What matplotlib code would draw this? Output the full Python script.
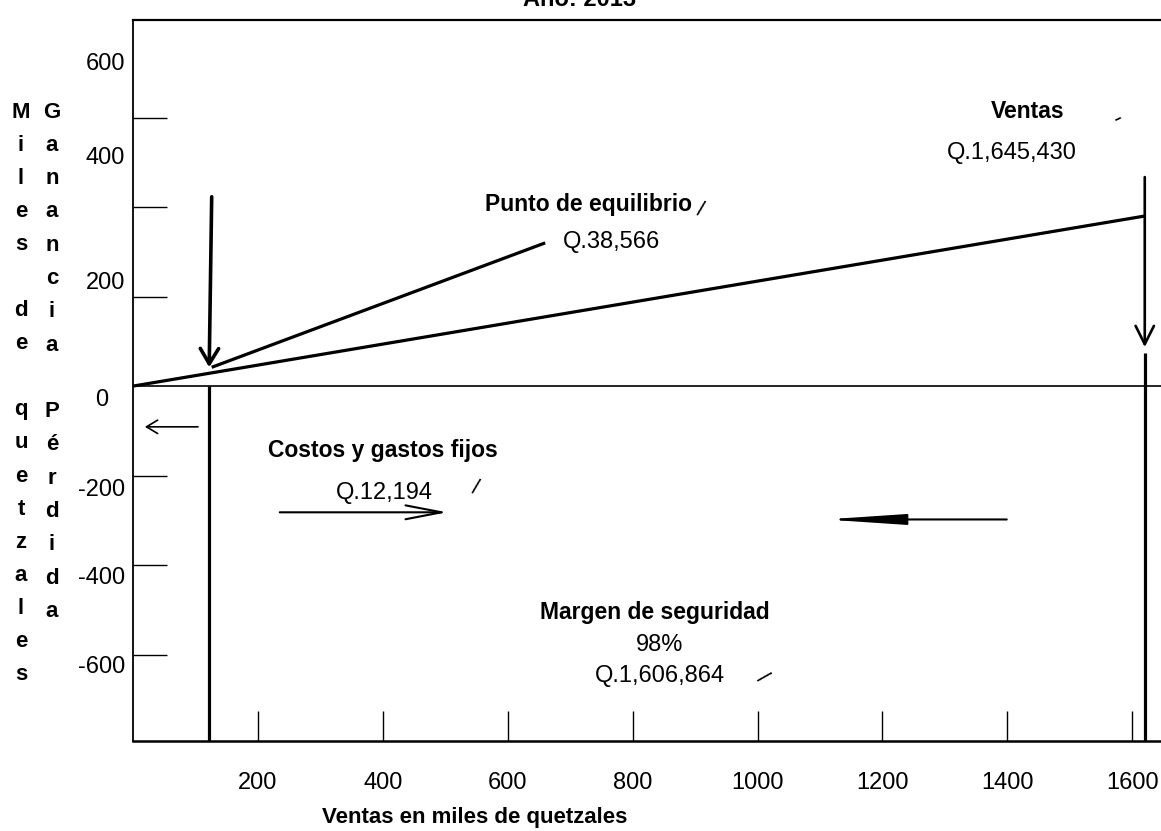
import matplotlib.pyplot as plt

plt.rcParams['font.family'] = ['Liberation Sans', 'DejaVu Sans']

# datos (miles de quetzales, dibujo a mano alzada)
x_ticks = [200, 400, 600, 800, 1000, 1200, 1400, 1600]
y_ticks = [-600, -400, -200, 200, 400, 600]
y_labels = ['600', '400', '200', '0', '-200', '-400', '-600']
y_label_pos = [720, 509, 230, -31, -233, -429, -628]

linea_ventas_x = [0, 1620]
linea_ventas_y = [0, 380]
linea_equilibrio_x = [126, 660]
linea_equilibrio_y = [42, 320]

punto_equilibrio = 122
flecha_pe_y = [423, 42]
ventas_pos = 1620
flecha_ventas_y = [467, 87]
ventas_inferior = 74

flecha_izq_x = [104, 19]
flecha_izq_y = -91
flecha_costos_x = [235, 503]
flecha_costos_y = -282
flecha_margen_x = [1399, 1108]
flecha_margen_y = -298

titulo = 'Año: 2013'
eje_x = 'Ventas en miles de quetzales'
eje_y1 = 'Miles de quetzales'
eje_y2 = 'Ganancia Pérdida'

W, H = 1161, 831
XMIN, XMAX = 0, 1646
YMIN, YMAX = -793, 818


def fx(px):
    return px / W


def fy(py):
    return 1 - py / H


fig = plt.figure(figsize=(W / 100, H / 100), dpi=100)
ax = fig.add_axes([fx(133), fy(741), (W - 133) / W, 721 / H])
ax.set_xlim(XMIN, XMAX)
ax.set_ylim(YMIN, YMAX)

lw_grueso = 2.3
ax.plot(linea_ventas_x, linea_ventas_y, color='black', lw=lw_grueso, solid_capstyle='butt')
ax.plot(linea_equilibrio_x, linea_equilibrio_y, color='black', lw=lw_grueso, solid_capstyle='butt')
ax.axhline(0, color='black', lw=1.2)

ax.vlines(punto_equilibrio, YMIN, 0, color='black', lw=lw_grueso)
ax.vlines(ventas_pos, YMIN, ventas_inferior, color='black', lw=lw_grueso)

ax.annotate('', xy=(punto_equilibrio, flecha_pe_y[1]), xytext=(punto_equilibrio + 4, flecha_pe_y[0]),
            arrowprops=dict(arrowstyle='->,head_length=0.5,head_width=0.3', lw=2.6,
                            mutation_scale=22, shrinkA=0, shrinkB=0, color='black'))
ax.annotate('', xy=(ventas_pos, flecha_ventas_y[1]), xytext=(ventas_pos, flecha_ventas_y[0]),
            arrowprops=dict(arrowstyle='->,head_length=0.6,head_width=0.3', lw=1.9,
                            mutation_scale=22, shrinkA=0, shrinkB=0, color='black'))
ax.annotate('', xy=(flecha_izq_x[1], flecha_izq_y), xytext=(flecha_izq_x[0], flecha_izq_y),
            arrowprops=dict(arrowstyle='->,head_length=0.5,head_width=0.3', lw=1.2,
                            mutation_scale=16, shrinkA=0, shrinkB=0, color='black'))
ax.annotate('', xy=(flecha_costos_x[1], flecha_costos_y), xytext=(flecha_costos_x[0], flecha_costos_y),
            arrowprops=dict(arrowstyle='->,head_length=1.3,head_width=0.25', lw=1.5,
                            mutation_scale=20, shrinkA=0, shrinkB=0, color='black'))
ax.annotate('', xy=(flecha_margen_x[1], flecha_margen_y), xytext=(flecha_margen_x[0], flecha_margen_y),
            arrowprops=dict(arrowstyle='-|>,head_length=2.4,head_width=0.16', lw=1.5,
                            mutation_scale=20, shrinkA=0, shrinkB=0, color='black'))

# ejes
ax.spines['right'].set_visible(False)
ax.spines['left'].set_linewidth(1.3)
ax.spines['top'].set_linewidth(1.6)
ax.spines['bottom'].set_linewidth(1.8)

ax.set_xticks(x_ticks)
ax.set_xticklabels([str(v) for v in x_ticks])
ax.tick_params(axis='x', direction='in', length=21.5, width=1.0, labelsize=17, pad=22)
ax.set_yticks(y_ticks)
ax.tick_params(axis='y', direction='in', length=24.5, width=1.0, labelleft=False)

for lab, h in zip(y_labels, y_label_pos):
    xpos = -0.024 if lab == '0' else -0.008
    ax.text(xpos, h, lab, transform=ax.get_yaxis_transform(), ha='right', va='center',
            fontsize=17, clip_on=False)

# letras verticales del eje y
for i, ch in enumerate(eje_y1):
    fig.text(fx(21), fy(112 + 33.1 * i), ch, ha='center', va='center', fontsize=16, weight='bold')
for i, ch in enumerate(eje_y2):
    fig.text(fx(52), fy(112 + 33.3 * i), ch, ha='center', va='center', fontsize=16, weight='bold')

# textos
fig.text(fx(580), fy(11), titulo, ha='center', va='bottom', fontsize=17, weight='bold')
fig.text(fx(475), fy(818), eje_x, ha='center', va='center', fontsize=16, weight='bold')

fig.text(fx(1028), fy(112), 'Ventas', ha='center', va='center', fontsize=16.5, weight='bold')
fig.text(fx(1012), fy(153), 'Q.1,645,430', ha='center', va='center', fontsize=17)
fig.text(fx(485), fy(205), 'Punto de equilibrio', ha='left', va='center', fontsize=16.5, weight='bold')
fig.text(fx(563), fy(242), 'Q.38,566', ha='left', va='center', fontsize=17)
fig.text(fx(383), fy(450), 'Costos y gastos fijos', ha='center', va='center', fontsize=16.5, weight='bold')
fig.text(fx(384), fy(493), 'Q.12,194', ha='center', va='center', fontsize=17)
fig.text(fx(655), fy(612), 'Margen de seguridad', ha='center', va='center', fontsize=16.5, weight='bold')
fig.text(fx(660), fy(645), '98%', ha='center', va='center', fontsize=17)
fig.text(fx(660), fy(676), 'Q.1,606,864', ha='center', va='center', fontsize=17)

# marcas de revision hechas a mano
fig.text(fx(1118), fy(118), '-', ha='center', va='center', fontsize=18, rotation=25)
fig.text(fx(700), fy(210), '/', ha='center', va='center', fontsize=16, rotation=-15)
fig.text(fx(475), fy(488), '/', ha='center', va='center', fontsize=16, rotation=-15)
fig.text(fx(762), fy(678), '/', ha='center', va='center', fontsize=16, rotation=-45)

fig.savefig('out.png', dpi=100)
